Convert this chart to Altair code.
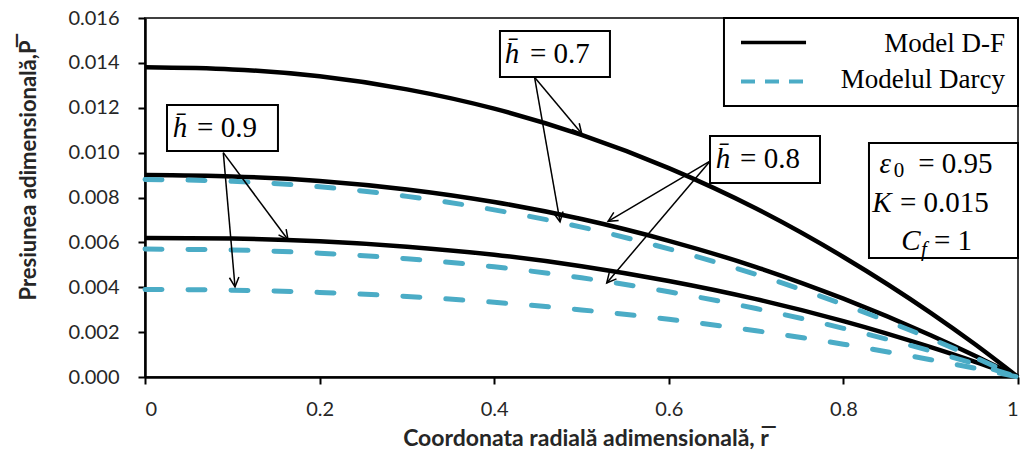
import math
import altair as alt
import pandas as pd

# ---------------- data ----------------
r_vals = [0.0, 0.1, 0.2, 0.3, 0.4, 0.5, 0.6, 0.7, 0.8, 0.9, 0.95, 1.0]
df_07 = [0.0138, 0.01371, 0.0134, 0.01282, 0.01196, 0.01079, 0.00931, 0.00751, 0.00535, 0.00286, 0.00148, 0.0]
df_08 = [0.0090, 0.00894, 0.00874, 0.00836, 0.0078, 0.00704, 0.00607, 0.0049, 0.00349, 0.00186, 0.00096, 0.0]
df_09 = [0.0062, 0.00617, 0.00605, 0.00581, 0.00545, 0.00494, 0.00428, 0.00347, 0.00249, 0.00133, 0.00069, 0.0]
da_07 = [0.0088, 0.00872, 0.00848, 0.00805, 0.00745, 0.00668, 0.00571, 0.00457, 0.00323, 0.00171, 0.00088, 0.0]
da_08 = [0.0057, 0.00566, 0.00552, 0.00527, 0.00491, 0.00442, 0.0038, 0.00305, 0.00217, 0.00116, 0.00059, 0.0]
da_09 = [0.0039, 0.00387, 0.00377, 0.00359, 0.00333, 0.00299, 0.00257, 0.00206, 0.00146, 0.00077, 0.0004, 0.0]

x_ticks = [0, 0.2, 0.4, 0.6, 0.8, 1]
y_ticks = [0, 0.002, 0.004, 0.006, 0.008, 0.010, 0.012, 0.014, 0.016]

legend_labels = ["Model D-F", "Modelul Darcy"]

# annotation boxes (data coordinates): x, x2, y, y2
box_x = [0.4066, 0.0252, 0.6472, 0.8293, 0.6632]
box_x2 = [0.5326, 0.1523, 0.7732, 1.0, 1.0]
box_y = [0.01542, 0.01212, 0.01074, 0.01043, 0.0160]
box_y2 = [0.01337, 0.01007, 0.00865, 0.00530, 0.01208]

# arrows: start -> end (data coordinates)
arr_x = [0.4462, 0.4462, 0.6472, 0.6472, 0.0897, 0.0897]
arr_y = [0.01336, 0.01336, 0.00962, 0.00962, 0.0100, 0.0100]
arr_x2 = [0.5002, 0.4754, 0.5304, 0.5289, 0.1638, 0.1031]
arr_y2 = [0.01085, 0.00692, 0.00694, 0.00419, 0.00612, 0.00402]

# texts
it_text = ["h\u0304", "h\u0304", "h\u0304", "\u03b5", "K", "C"]
it_x = [0.4204, 0.0401, 0.6621, 0.8480, 0.8442, 0.8774]
it_y = [0.0144, 0.0111, 0.00972, 0.00949, 0.00775, 0.00606]

sub_text = ["0", "f"]
sub_x = [0.8637, 0.8923]
sub_y = [0.00917, 0.00566]

reg_text = ["= 0.7", "= 0.9", "= 0.8", "= 0.95", "= 0.015", "= 1"]
reg_x = [0.4410, 0.0596, 0.6816, 0.8856, 0.8648, 0.9038]
reg_y = [0.0144, 0.0111, 0.00972, 0.00949, 0.00775, 0.00606]

leg_line_x = [0.6827, 0.7572]
leg_line_y = [0.01491, 0.01317]
leg_text_x = 0.9851
leg_text_y = [0.01484, 0.01324]

# ---------------- layout ----------------
W, H = 873, 359
XMAX, YMAX = 1.0, 0.016
BLACK = "#000000"
TEAL = "#4BACC6"

rows = []
for name, vals in [("DF 0.7", df_07), ("DF 0.8", df_08), ("DF 0.9", df_09)]:
    for r, p in zip(r_vals, vals):
        rows.append({"r": r, "P": p, "curve": name})
df_lines = pd.DataFrame(rows)
rows = []
for name, vals in [("D 0.7", da_07), ("D 0.8", da_08), ("D 0.9", da_09)]:
    for r, p in zip(r_vals, vals):
        rows.append({"r": r, "P": p, "curve": name})
da_lines = pd.DataFrame(rows)

xs = alt.Scale(domain=[0, XMAX], nice=False, zero=False)
ys = alt.Scale(domain=[0, YMAX], nice=False)

x_enc = alt.X(
    "r:Q", scale=xs,
    axis=alt.Axis(
        values=x_ticks, format="~g", grid=False, tickSize=7, labelPadding=15,
        title="Coordonata radial\u0103 adimensional\u0103, r\u0305",
        titleX=W / 2 + 4, titleY=61, titleBaseline="middle", titleFontSize=23,
    ),
)
y_enc = alt.Y(
    "P:Q", scale=ys,
    axis=alt.Axis(
        values=y_ticks, format=".3f", grid=False, tickSize=7, labelPadding=19,
        title="Presiunea adimensional\u0103,P\u0305",
        titleX=-117, titleY=152, titleAlign="center", titleBaseline="middle",
        titleFontSize=22,
    ),
)

base_df = alt.Chart(df_lines).mark_line(
    color=BLACK, strokeWidth=4.5, interpolate="monotone"
).encode(x=x_enc, y=y_enc, detail="curve:N")

base_da = alt.Chart(da_lines).mark_line(
    color=TEAL, strokeWidth=5, strokeDash=[17, 26], strokeCap="round",
    interpolate="monotone",
).encode(x="r:Q", y="P:Q", detail="curve:N")

boxes = pd.DataFrame({"x": box_x, "x2": box_x2, "y": box_y, "y2": box_y2})
box_layer = alt.Chart(boxes).mark_rect(
    fill="white", stroke=BLACK, strokeWidth=2
).encode(x="x:Q", x2="x2:Q", y="y:Q", y2="y2:Q")

arrows = pd.DataFrame({"x": arr_x, "y": arr_y, "x2": arr_x2, "y2": arr_y2})
angles = []
for a, b, c, d in zip(arr_x, arr_y, arr_x2, arr_y2):
    dx = (c - a) / XMAX * W
    dy = -(d - b) / YMAX * H
    angles.append(math.degrees(math.atan2(dx, -dy)) % 360)
arrows["angle"] = angles
arrow_lines = alt.Chart(arrows).mark_rule(
    color=BLACK, strokeWidth=1.5
).encode(x="x:Q", y="y:Q", x2="x2:Q", y2="y2:Q")
arrow_heads = alt.Chart(arrows).mark_point(
    shape="M -0.5 1 L 0 0 L 0.5 1", filled=False, color=BLACK,
    strokeWidth=1.5, size=360, opacity=1,
).encode(x="x2:Q", y="y2:Q", angle=alt.Angle("angle:Q", scale=None))

it_df = pd.DataFrame({"x": it_x, "y": it_y, "t": it_text})
it_layer = alt.Chart(it_df).mark_text(
    font="Liberation Serif", fontStyle="italic", fontSize=29,
    align="center", baseline="middle", color=BLACK,
).encode(x="x:Q", y="y:Q", text="t:N")

sub_df = pd.DataFrame({"x": sub_x, "y": sub_y, "t": sub_text})
sub_up = alt.Chart(sub_df.iloc[[0]]).mark_text(
    font="Liberation Serif", fontSize=21,
    align="center", baseline="middle", color=BLACK,
).encode(x="x:Q", y="y:Q", text="t:N")
sub_it = alt.Chart(sub_df.iloc[[1]]).mark_text(
    font="Liberation Serif", fontStyle="italic", fontSize=21,
    align="center", baseline="middle", color=BLACK,
).encode(x="x:Q", y="y:Q", text="t:N")

reg_df = pd.DataFrame({"x": reg_x, "y": reg_y, "t": reg_text})
reg_layer = alt.Chart(reg_df).mark_text(
    font="Liberation Serif", fontSize=29,
    align="left", baseline="middle", color=BLACK,
).encode(x="x:Q", y="y:Q", text="t:N")

leg_df = alt.Chart(pd.DataFrame({
    "x": [leg_line_x[0]], "x2": [leg_line_x[1]], "y": [leg_line_y[0]]
})).mark_rule(color=BLACK, strokeWidth=3.5).encode(x="x:Q", x2="x2:Q", y="y:Q")
leg_da = alt.Chart(pd.DataFrame({
    "x": [leg_line_x[0]], "x2": [leg_line_x[1]], "y": [leg_line_y[1]]
})).mark_rule(color=TEAL, strokeWidth=4, strokeDash=[14, 10]).encode(
    x="x:Q", x2="x2:Q", y="y:Q")
leg_txt = alt.Chart(pd.DataFrame({
    "x": [leg_text_x, leg_text_x], "y": leg_text_y, "t": legend_labels
})).mark_text(
    font="Liberation Serif", fontSize=27, align="right", baseline="middle",
    color=BLACK,
).encode(x="x:Q", y="y:Q", text="t:N")

chart = alt.layer(
    base_df, base_da, arrow_lines, arrow_heads, box_layer,
    it_layer, sub_up, sub_it, reg_layer, leg_df, leg_da, leg_txt,
).properties(
    width=W, height=H,
    autosize=alt.AutoSizeParams(type="none"),
    padding={"left": 145, "top": 18, "right": 7, "bottom": 77},
    background="white",
).configure_view(
    stroke="#404040", strokeWidth=2,
).configure_axis(
    domainColor=BLACK, domainWidth=2.5, tickColor=BLACK, tickWidth=2,
    labelFont="Lato", labelFontSize=20, labelColor="#262626",
    titleFont="Lato", titleFontWeight="bold", titleColor="#262626",
)

chart.save("out.html", embed_options={"renderer": "svg", "actions": False})
